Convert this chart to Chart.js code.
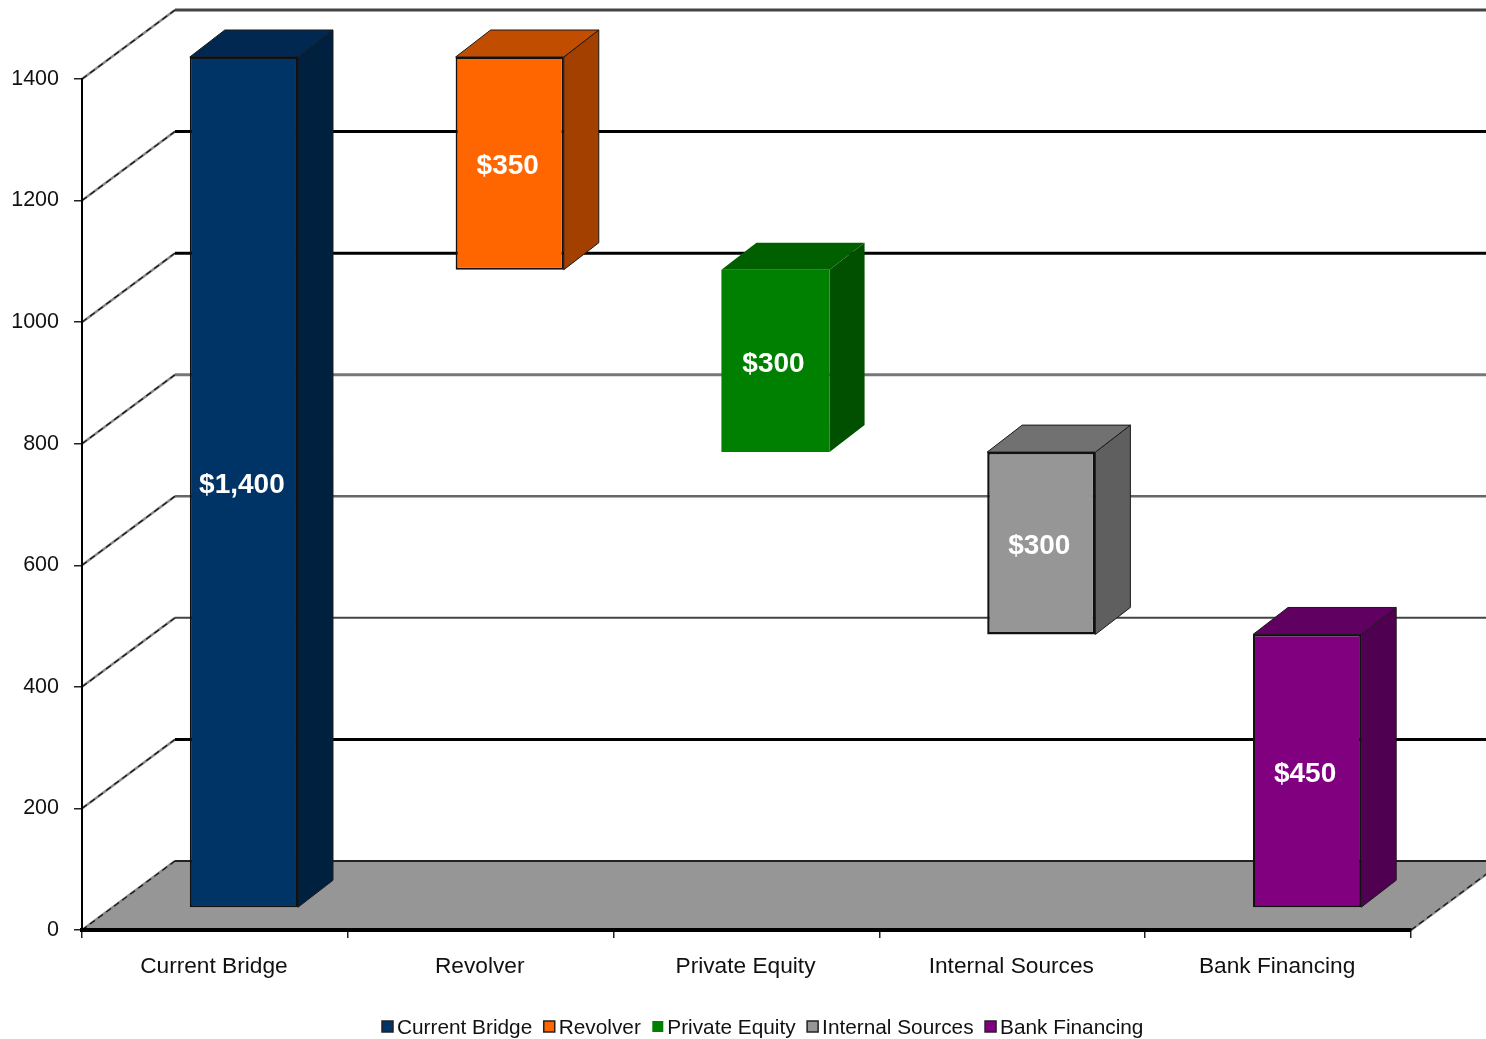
<!DOCTYPE html>
<html>
<head>
<meta charset="utf-8">
<title>Financing bridge</title>
<script src="https://cdn.jsdelivr.net/npm/chart.js@4/dist/chart.umd.min.js"></script>
<style>
  html, body { margin: 0; padding: 0; background: #fff; }
  canvas { display: block; }
</style>
</head>
<body>
<canvas id="bridge-chart" width="1486" height="1039"></canvas>
<script>
const categories = ["Current Bridge", "Revolver", "Private Equity", "Internal Sources", "Bank Financing"];
const amounts = [1400, 350, 300, 300, 450];
const bases = [0, 1050, 750, 450, 0];
const yTicks = [0, 200, 400, 600, 800, 1000, 1200, 1400];

const frontColors = ["#003366", "#ff6600", "#008000", "#969696", "#800080"];
const topColors = ["#002850", "#c04d00", "#006000", "#717171", "#600060"];
const sideColors = ["#002040", "#a34000", "#005000", "#5f5f5f", "#500050"];
const edgeWidths = [2, 2, 0, 2.5, 2];

// back wall line per y tick, same order as yTicks
const wallLineColors = ["#222", "#000", "#444", "#666", "#777", "#000", "#000", "#444"];
const wallLineWidths = [2, 3, 2, 2.5, 3, 3, 3, 3];

const wallDepth = { x: 93, y: -69 };
const barShift = { x: 29, y: -22 };
const barDepth = { x: 35, y: -27 };

function polygon(ctx, points, fill, edge) {
  ctx.beginPath();
  points.forEach((p, i) => (i ? ctx.lineTo(p[0], p[1]) : ctx.moveTo(p[0], p[1])));
  ctx.closePath();
  ctx.fillStyle = fill;
  ctx.fill();
  if (edge) {
    ctx.strokeStyle = "#1a1a1a";
    ctx.lineWidth = 1;
    ctx.stroke();
  }
}

// grey line with a broken dark one on top, the slanted wall lines look rough
function roughLine(ctx, x1, y1, x2, y2) {
  ctx.beginPath();
  ctx.moveTo(x1, y1);
  ctx.lineTo(x2, y2);
  ctx.strokeStyle = "#8a8a8a";
  ctx.lineWidth = 2.5;
  ctx.stroke();
  ctx.setLineDash([6, 4]);
  ctx.strokeStyle = "#111";
  ctx.lineWidth = 1.2;
  ctx.stroke();
  ctx.setLineDash([]);
}

// floor, back wall lines and the slanted lines on the side wall
const wallPlugin = {
  id: "walls",
  beforeDraw(chart) {
    const { ctx, chartArea, scales } = chart;
    const left = chartArea.left;
    const right = chartArea.right;
    const floorY = scales.y.getPixelForValue(0);

    ctx.save();
    polygon(ctx, [
      [left, floorY],
      [left + wallDepth.x, floorY + wallDepth.y],
      [right + wallDepth.x, floorY + wallDepth.y],
      [right, floorY],
    ], "#969696");

    yTicks.forEach((v, i) => {
      const y = scales.y.getPixelForValue(v);
      roughLine(ctx, left, y, left + wallDepth.x, y + wallDepth.y);

      ctx.beginPath();
      ctx.moveTo(left + wallDepth.x, y + wallDepth.y);
      ctx.lineTo(chart.width, y + wallDepth.y);
      ctx.strokeStyle = wallLineColors[i];
      ctx.lineWidth = wallLineWidths[i];
      ctx.stroke();
    });

    // right edge of the floor
    roughLine(ctx, right, floorY, right + wallDepth.x, floorY + wallDepth.y);
    ctx.restore();
  },
};

// draws side and top of each bar, then moves the flat bar back to its depth
const boxPlugin = {
  id: "boxes",
  beforeDatasetDraw(chart, args) {
    const { ctx } = chart;
    const k = args.index;
    const bar = args.meta.data[k];
    const x1 = bar.x - bar.width / 2 + barShift.x;
    const x2 = bar.x + bar.width / 2 + barShift.x;
    const top = bar.y + barShift.y;
    const bottom = bar.base + barShift.y;
    const edge = edgeWidths[k] > 0;

    ctx.save();
    polygon(ctx, [
      [x2, top],
      [x2 + barDepth.x, top + barDepth.y],
      [x2 + barDepth.x, bottom + barDepth.y],
      [x2, bottom],
    ], sideColors[k], edge);
    polygon(ctx, [
      [x1, top],
      [x1 + barDepth.x, top + barDepth.y],
      [x2 + barDepth.x, top + barDepth.y],
      [x2, top],
    ], topColors[k], edge);
    ctx.translate(barShift.x, barShift.y);
  },
  afterDatasetDraw(chart) {
    chart.ctx.restore();
  },
  afterDatasetsDraw(chart) {
    const { ctx } = chart;
    ctx.save();
    ctx.font = "bold 28px 'Liberation Sans'";
    ctx.fillStyle = "#fff";
    ctx.textAlign = "center";
    ctx.textBaseline = "middle";
    amounts.forEach((amount, k) => {
      const bar = chart.getDatasetMeta(k).data[k];
      const x = bar.x + barShift.x - 2;
      const y = (bar.y + bar.base) / 2 + barShift.y + 3;
      ctx.fillText("$" + amount.toLocaleString("en-US"), x, y);
    });
    ctx.restore();
  },
};

// legend squeezed tighter than the built in one allows
const legendPlugin = {
  id: "bottomLegend",
  afterDraw(chart) {
    const { ctx } = chart;
    let x = 382;
    const y = 1028;
    ctx.save();
    ctx.font = "20.8px 'Liberation Sans'";
    ctx.textBaseline = "middle";
    categories.forEach((name, k) => {
      ctx.fillStyle = frontColors[k];
      ctx.fillRect(x, y - 7, 11, 11);
      if (edgeWidths[k]) {
        ctx.strokeStyle = "#222";
        ctx.lineWidth = 1.5;
        ctx.strokeRect(x, y - 7, 11, 11);
      }
      ctx.fillStyle = "#111";
      ctx.fillText(name, x + 15, y);
      x += 15 + ctx.measureText(name).width + 11.5;
    });
    ctx.restore();
  },
};

new Chart(document.getElementById("bridge-chart"), {
  type: "bar",
  data: {
    labels: categories,
    datasets: categories.map((name, k) => ({
      label: name,
      data: categories.map((_, i) => (i === k ? [bases[k], bases[k] + amounts[k]] : null)),
      backgroundColor: frontColors[k],
      borderColor: "#111",
      borderWidth: edgeWidths[k],
      borderSkipped: false,
      grouped: false,
      barPercentage: 0.407,
      categoryPercentage: 1,
      clip: false,
    })),
  },
  options: {
    responsive: false,
    animation: false,
    layout: { padding: { top: 79, right: 75, bottom: 0, left: 0 } },
    plugins: {
      legend: { display: false },
      tooltip: { enabled: false },
    },
    scales: {
      x: {
        afterFit: (scale) => { scale.height = 109; },
        grid: { drawOnChartArea: false, tickLength: 8, color: "#222", lineWidth: 1.5 },
        border: { color: "#000", width: 4, z: 1 },
        ticks: {
          color: "#111",
          padding: 15,
          labelOffset: -1,
          maxRotation: 0,
          font: { family: "Liberation Sans", size: 22.7 },
        },
      },
      y: {
        min: 0,
        max: 1400,
        afterFit: (scale) => { scale.width = 82; },
        afterBuildTicks: (scale) => { scale.ticks = yTicks.map((value) => ({ value })); },
        grid: { drawOnChartArea: false, tickLength: 8, color: "#222", lineWidth: 1.5 },
        border: { color: "#000", width: 2 },
        ticks: {
          color: "#111",
          padding: 15,
          callback: (value) => String(value),
          font: { family: "Liberation Sans", size: 21.5 },
        },
      },
    },
  },
  plugins: [wallPlugin, boxPlugin, legendPlugin],
});
</script>
</body>
</html>
